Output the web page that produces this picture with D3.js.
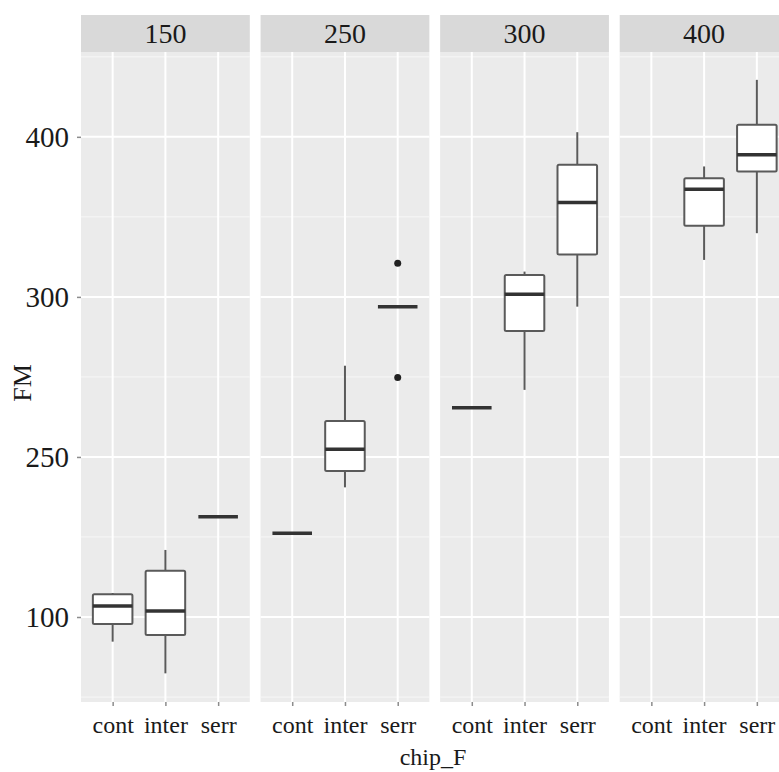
<!DOCTYPE html>
<html>
<head>
<meta charset="utf-8">
<script src="https://cdn.jsdelivr.net/npm/d3@7"></script>
<style>
  body { margin: 0; background: #fff; }
  svg { display: block; }
</style>
</head>
<body>
<div id="chart"></div>
<script>
// facets and categories
const facets = ['150', '250', '300', '400'];
const categories = ['cont', 'inter', 'serr'];

// box statistics, one row per facet, one entry per category (null = no data)
const lowWhisker = [
    [84.6, 64.8, 162.7],
    [152.3, 181, 293.9],
    [230.8, 241.9, 293.9],
    [null, 323.1, 339.8]
];
const q1 = [
    [95.6, 88.75, 162.7],
    [152.3, 191.25, 293.9],
    [230.8, 278.75, 326.5],
    [null, 344.4, 378.3]
];
const median = [
    [106.9, 103.75, 162.7],
    [152.3, 204.8, 293.9],
    [230.8, 301.7, 359],
    [null, 367.3, 388.75]
];
const q3 = [
    [114.2, 128.9, 162.7],
    [152.3, 222.5, 293.9],
    [230.8, 313.75, 382.5],
    [null, 374.2, 407.5]
];
const highWhisker = [
    [115, 141.9, 162.7],
    [152.3, 257, 293.9],
    [230.8, 315.8, 402.9],
    [null, 381.5, 435.6]
];
const outliers = [
    { facet: '250', cat: 'serr', value: 321 },
    { facet: '250', cat: 'serr', value: 249.6 }
];

// y axis: evenly spaced ticks carrying the labels shown on the chart
const yTickValues = [100, 200, 300, 400];
const yTickLabels = ['100', '250', '300', '400'];

const W = 779, H = 772;
const panelTop = 52, panelBottom = 702, stripTop = 15;
const font = '"Liberation Serif", "DejaVu Serif", serif';

const svg = d3.select('#chart').append('svg')
    .attr('width', W)
    .attr('height', H);

const fx = d3.scaleBand()
    .domain(facets)
    .range([81, 788.5])
    .paddingInner(0.06);

const x = d3.scalePoint()
    .domain(categories)
    .range([0, fx.bandwidth()])
    .padding(0.6);

const y = d3.scaleLinear()
    .domain([46.9, 453])
    .range([panelBottom, panelTop]);

const step = x.step();
const boxW = step * 0.75;

const boxes = [];
facets.forEach((f, i) => {
    categories.forEach((c, j) => {
        if (median[i][j] == null) return;
        boxes.push({
            facet: f, cat: c,
            lo: lowWhisker[i][j], q1: q1[i][j], med: median[i][j],
            q3: q3[i][j], hi: highWhisker[i][j]
        });
    });
});

// y minor gridline positions (midpoints between ticks)
const yMinor = [];
for (let k = 0; k <= yTickValues.length; k++) {
    const a = k === 0 ? yTickValues[0] - 100 : yTickValues[k - 1];
    const b = k === yTickValues.length ? a + 100 : yTickValues[k];
    const m = (a + b) / 2;
    if (m > y.domain()[0] && m < y.domain()[1]) yMinor.push(m);
}

facets.forEach(f => {
    const px = fx(f);
    const g = svg.append('g').attr('transform', `translate(${px},0)`);

    // strip
    g.append('rect')
        .attr('x', 0).attr('y', stripTop)
        .attr('width', fx.bandwidth()).attr('height', panelTop - stripTop)
        .attr('fill', '#d9d9d9');
    g.append('text')
        .attr('x', fx.bandwidth() / 2)
        .attr('y', 43)
        .attr('text-anchor', 'middle')
        .style('font-family', font)
        .style('font-size', '28px')
        .style('fill', '#1a1a1a')
        .text(f);

    // panel background
    g.append('rect')
        .attr('x', 0).attr('y', panelTop)
        .attr('width', fx.bandwidth()).attr('height', panelBottom - panelTop)
        .attr('fill', '#ebebeb');

    // grid
    g.selectAll('.minor').data(yMinor).enter().append('line')
        .attr('x1', 0).attr('x2', fx.bandwidth())
        .attr('y1', d => y(d)).attr('y2', d => y(d))
        .attr('stroke', '#f7f7f7').attr('stroke-width', 1);
    g.selectAll('.major').data(yTickValues).enter().append('line')
        .attr('x1', 0).attr('x2', fx.bandwidth())
        .attr('y1', d => y(d)).attr('y2', d => y(d))
        .attr('stroke', '#ffffff').attr('stroke-width', 2);
    g.selectAll('.vmajor').data(categories).enter().append('line')
        .attr('x1', d => x(d)).attr('x2', d => x(d))
        .attr('y1', panelTop).attr('y2', panelBottom)
        .attr('stroke', '#ffffff').attr('stroke-width', 2);

    // boxes
    const bg = g.selectAll('.box')
        .data(boxes.filter(b => b.facet === f))
        .enter().append('g');

    bg.append('line')
        .attr('x1', d => x(d.cat)).attr('x2', d => x(d.cat))
        .attr('y1', d => y(d.hi)).attr('y2', d => y(d.q3))
        .attr('stroke', '#5a5a5a').attr('stroke-width', 2);
    bg.append('line')
        .attr('x1', d => x(d.cat)).attr('x2', d => x(d.cat))
        .attr('y1', d => y(d.q1)).attr('y2', d => y(d.lo))
        .attr('stroke', '#5a5a5a').attr('stroke-width', 2);
    bg.append('rect')
        .attr('x', d => x(d.cat) - boxW / 2)
        .attr('y', d => y(d.q3))
        .attr('width', boxW)
        .attr('height', d => y(d.q1) - y(d.q3))
        .attr('fill', '#ffffff')
        .attr('stroke', '#5a5a5a')
        .attr('stroke-width', 2)
        .attr('rx', 1.5);
    bg.append('line')
        .attr('x1', d => x(d.cat) - boxW / 2).attr('x2', d => x(d.cat) + boxW / 2)
        .attr('y1', d => y(d.med)).attr('y2', d => y(d.med))
        .attr('stroke', '#333333').attr('stroke-width', 3.5);

    // outliers
    g.selectAll('.outlier')
        .data(outliers.filter(o => o.facet === f))
        .enter().append('circle')
        .attr('cx', d => x(d.cat))
        .attr('cy', d => y(d.value))
        .attr('r', 3.5)
        .attr('fill', '#222222');

    // x axis
    const xAxis = g.append('g')
        .attr('transform', `translate(0,${panelBottom})`)
        .call(d3.axisBottom(x).tickSize(4).tickPadding(10));
    xAxis.select('.domain').remove();
    xAxis.selectAll('line').attr('stroke', '#8c8c8c').attr('stroke-width', 1.5);
    xAxis.selectAll('text')
        .style('font-family', font)
        .style('font-size', '24px')
        .style('fill', '#1a1a1a');
});

// y axis
const yAxis = svg.append('g')
    .attr('transform', `translate(${fx(facets[0])},0)`)
    .call(d3.axisLeft(y)
        .tickValues(yTickValues)
        .tickFormat((d, i) => yTickLabels[i])
        .tickSize(4)
        .tickPadding(8));
yAxis.select('.domain').remove();
yAxis.selectAll('line').attr('stroke', '#8c8c8c').attr('stroke-width', 1.5);
yAxis.selectAll('text')
    .style('font-family', font)
    .style('font-size', '29px')
    .style('fill', '#1a1a1a');

// axis titles
svg.append('text')
    .attr('x', 433)
    .attr('y', 765)
    .attr('text-anchor', 'middle')
    .style('font-family', font)
    .style('font-size', '24px')
    .style('fill', '#1a1a1a')
    .text('chip_F');

svg.append('text')
    .attr('transform', 'rotate(-90)')
    .attr('x', -383)
    .attr('y', 31)
    .attr('text-anchor', 'middle')
    .style('font-family', font)
    .style('font-size', '26px')
    .style('fill', '#1a1a1a')
    .text('FM');
</script>
</body>
</html>
